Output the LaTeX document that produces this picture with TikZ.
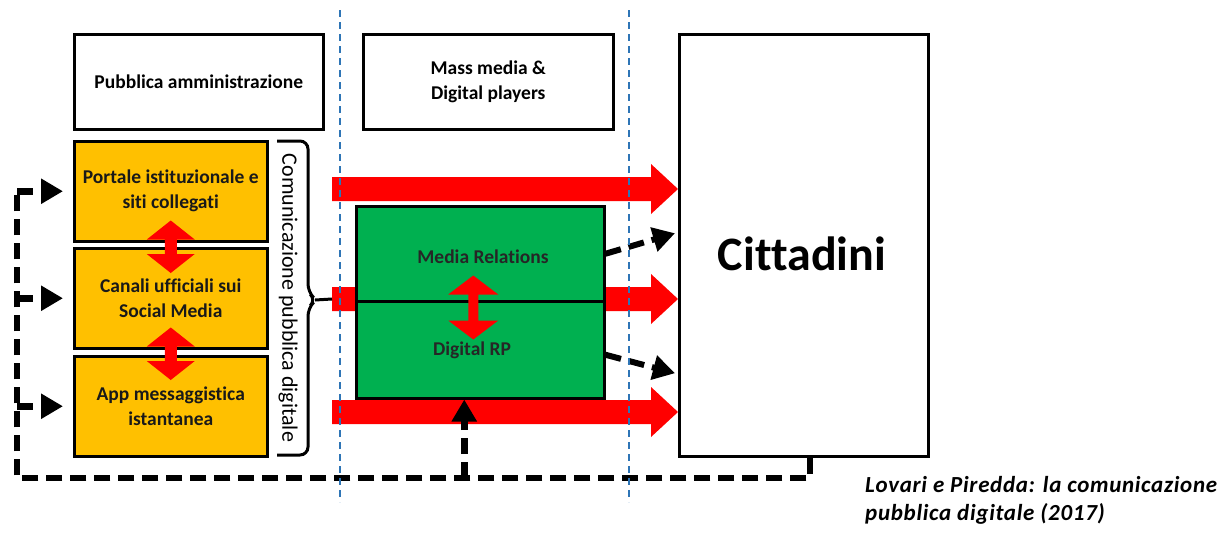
\documentclass[tikz,border=0pt]{standalone}
\usepackage{fontspec}
\setmainfont{Carlito}[Ligatures=NoCommon]
\usetikzlibrary{arrows.meta,calc}
\definecolor{yel}{HTML}{FFC000}
\definecolor{grn}{HTML}{00B050}
\definecolor{arrred}{HTML}{FF0000}
\definecolor{guide}{HTML}{2E75B6}
\newcommand{\hblockarrow}[2]{%
  \fill[arrred] let \p1=(#1), \p2=(#2) in
    (\x1,\y1+12pt) -- (\x2-27pt,\y1+12pt) -- (\x2-27pt,\y1+25pt) -- (\x2,\y1)
    -- (\x2-27pt,\y1-25pt) -- (\x2-27pt,\y1-12pt) -- (\x1,\y1-12pt) -- cycle;}
\newcommand{\vdblarrow}[5]{%
  \fill[arrred] let \p1=(#1), \p2=(#2) in
    (\x1,\y1) -- (\x1+#3,\y1-#5) -- (\x1+#4,\y1-#5) -- (\x1+#4,\y2+#5)
    -- (\x1+#3,\y2+#5) -- (\x1,\y2) -- (\x1-#3,\y2+#5) -- (\x1-#4,\y2+#5)
    -- (\x1-#4,\y1-#5) -- (\x1-#3,\y1-#5) -- cycle;}
\begin{document}
\begin{tikzpicture}[x=1pt,y=-1pt,
  topbox/.style={draw=black, line width=2.5pt, fill=white, inner sep=0pt,
    anchor=north west, align=center, font=\fontsize{19.5}{25}\selectfont\bfseries},
  ybox/.style={draw=black, line width=2.5pt, fill=yel, inner sep=0pt,
    minimum width=193pt, minimum height=100pt, anchor=north west, align=center,
    text=black!90, font=\fontsize{19.5}{25}\selectfont\bfseries},
  gbox/.style={draw=black, line width=2.5pt, fill=grn, inner sep=0pt,
    minimum width=248pt, anchor=north west},
  gtext/.style={text=black!85, font=\fontsize{19.5}{25}\selectfont\bfseries},
  fb/.style={draw=black, line width=6.5pt, dash pattern=on 16pt off 8pt},
  fbarrow/.style={fb, -{Triangle[length=22pt,width=24pt]}},
  guideline/.style={draw=guide, line width=1.6pt, dash pattern=on 7pt off 5pt},
  bracestyle/.style={draw=black, line width=3pt, rounded corners=8pt}
]
\useasboundingbox (0,0) rectangle (1231,533);

% header boxes
\node[topbox, minimum width=249pt, minimum height=95pt] (pa) at (73,33) {Pubblica amministrazione};
\node[topbox, minimum width=250pt, minimum height=95pt] (mm) at (362,33) {Mass media \&\\Digital players};
\node[topbox, minimum width=249pt, minimum height=422pt] (cit) at (678,33) {};
\node[font=\fontsize{48}{52}\selectfont\bfseries] (cittxt) at (802,254) {Cittadini};

% yellow channels
\node[ybox] (y1) at (73,140) {Portale istituzionale e\\siti collegati};
\node[ybox] (y2) at (73,247) {Canali ufficiali sui\\Social Media};
\node[ybox] (y3) at (73,355) {App messaggistica\\istantanea};

% brace
\draw[bracestyle] (277,141) -- (308,141) -- (308,292) -- (316,300) -- (308,308) -- (308,455) -- (277,455);
\coordinate (bt) at (315,300);
\coordinate (ra1) at (332,189);
\coordinate (ra2) at (332,299);
\coordinate (ra3) at (332,412);
\node[rotate=-90, font=\fontsize{22}{26}\selectfont] (cpd) at (288,298) {Comunicazione pubblica digitale};

% red block arrows (behind green box)
\hblockarrow{ra1}{cit.west |- ra1}
\hblockarrow{ra2}{cit.west |- ra2}
\hblockarrow{ra3}{cit.west |- ra3}
\draw[line width=3pt] (bt) -- (ra2);

% green box
\node[gbox, minimum height=95pt] (gr1) at (355,205) {};
\node[gbox, minimum height=97pt] (gr2) at (355,300) {};
\node[gtext] (mrtxt) at (483,257) {Media Relations};
\node[gtext] (drtxt) at (472,350) {Digital RP};

% red double arrows
\vdblarrow{[yshift=22pt]y1.south}{[yshift=-26pt]y2.north}{24pt}{6pt}{19pt}
\vdblarrow{[yshift=22pt]y2.south}{[yshift=-25pt]y3.north}{24pt}{6pt}{19pt}
\vdblarrow{[xshift=-7pt,yshift=27pt]gr1.south}{[xshift=-7pt,yshift=-37pt]gr1.south}{25pt}{5pt}{19pt}

% dashed arrows from the green box to citizens
\draw[fbarrow, line width=6pt] (gr1.east) -- ([xshift=-3pt,yshift=12pt]cit.west);
\draw[fbarrow, line width=6pt] ([yshift=-5pt]gr2.east) -- ([xshift=-3pt,yshift=-128pt]cit.west);

% feedback loop
\coordinate (fbx) at (17,478);
\draw[fb] ([xshift=6pt]cit.south) |- (fbx) -- (fbx |- y1.west);
\draw[fbarrow, shorten >=10pt] (fbx |- y1.west) -- (y1.west);
\draw[fbarrow, shorten >=10pt] (fbx |- y2.west) -- (y2.west);
\draw[fbarrow, shorten >=10pt] (fbx |- y3.west) -- (y3.west);
\draw[fbarrow] ([xshift=-16pt]gr2.south |- fbx) -- ([xshift=-16pt]gr2.south);

% blue guide lines
\coordinate (g1t) at (340,10);
\coordinate (g1b) at (340,502);
\coordinate (g2t) at (629,10);
\coordinate (g2b) at (629,502);
\draw[guideline] (g1t) -- (g1b);
\draw[guideline] (g2t) -- (g2b);

% citation
\node[anchor=north west, align=left, inner sep=0pt,
  font=\fontsize{23}{28}\selectfont\bfseries\itshape\addfontfeatures{LetterSpace=3}] (src) at (865,476)
  {Lovari e Piredda: la comunicazione\\pubblica digitale (2017)};
\end{tikzpicture}
\end{document}
